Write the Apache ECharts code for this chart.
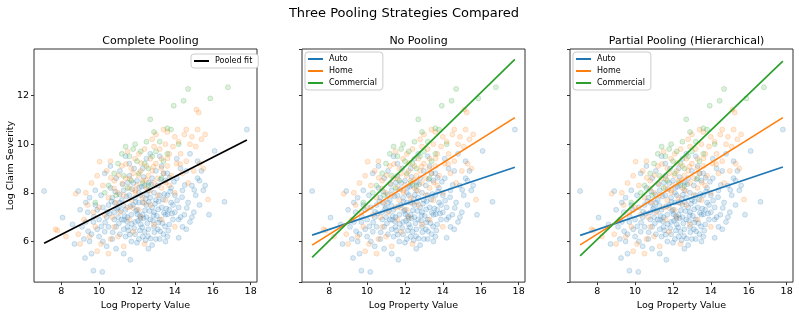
<!DOCTYPE html>
<html>
<head>
<meta charset="utf-8">
<title>Three Pooling Strategies Compared</title>
<script src="https://cdn.jsdelivr.net/npm/echarts@6/dist/echarts.min.js"></script>
<style>
  html, body { margin: 0; padding: 0; background: #fff; }
  #chart { width: 799px; height: 316px; }
</style>
</head>
<body>
<div id="chart"></div>
<script>
// data (log property value, log claim severity)
var autoPoints = [
  [7.1,8.07],[8.07,6.98],[8.9,8.07],[9.26,5.32],[9.7,4.8],[10.17,4.75],[11.65,5.25],[17.8,10.6],[16.1,9.72],[16.62,7.63],
  [15.3,8.5],[15.0,7.2],[14.6,6.5],[14.9,7.0],[15.5,8.1],[15.2,9.3],[14.8,9.6],[15.4,8.9],[14.3,9.0],[14.2,6.9],
  [13.2,6.1],[13.0,6.1],[12.6,5.7],[12.3,6.2],[11.9,6.3],[11.3,5.5],[10.9,5.7],[10.4,5.8],[10.0,6.2],[9.6,6.3],
  [9.2,6.1],[8.7,5.9],[9.0,7.3],[9.3,6.8],[8.6,6.7],[9.8,7.5],[9.5,7.8],
  [10.2,7.4],[10.4,7.0],[10.5,6.6],[10.7,7.8],[10.8,7.2],[10.3,6.4],[10.9,6.6],[10.6,8.2],[10.1,7.9],[10.9,8.6],
  [10.5,7.5],[10.8,6.9],[11.0,7.4],[10.0,6.9],[10.3,8.8],[10.7,6.1],
  [11.1,7.6],[11.2,6.9],[11.3,8.1],[11.4,7.3],[11.5,6.6],[11.6,7.9],[11.7,7.1],[11.8,8.4],[11.9,6.8],[11.2,7.7],
  [11.4,6.2],[11.6,8.7],[11.8,7.5],[11.1,8.9],[11.5,7.0],[11.9,7.8],[11.3,6.5],[11.7,6.0],[11.0,7.0],[11.6,9.2],
  [12.0,7.3],[12.1,8.0],[12.2,6.7],[12.3,7.6],[12.4,8.3],[12.5,7.0],[12.6,6.5],[12.7,7.8],[12.8,8.6],[12.9,7.2],
  [12.1,6.1],[12.3,9.0],[12.5,7.5],[12.7,6.9],[12.9,8.0],[12.2,7.9],[12.4,6.4],[12.6,8.1],[12.8,7.4],[12.0,8.5],
  [12.5,9.4],[12.3,7.1],[12.9,6.6],[12.1,7.6],
  [13.0,7.7],[13.1,8.3],[13.2,6.9],[13.3,7.4],[13.4,8.8],[13.5,7.1],[13.6,7.9],[13.7,6.7],[13.8,8.2],[13.9,7.5],
  [13.1,6.5],[13.3,9.1],[13.5,8.5],[13.7,7.3],[13.9,6.9],[13.2,7.9],[13.4,6.3],[13.6,8.8],[13.8,7.6],[13.0,8.9],
  [13.5,6.0],
  [14.0,7.9],[14.1,8.6],[14.2,7.4],[14.4,8.1],[14.5,7.1],[14.6,8.9],[14.7,7.6],[14.9,8.3],[14.3,7.0],[14.8,6.8],
  [14.1,9.4],[14.4,6.6],[14.0,7.2],
  [15.1,7.9],[15.3,7.5],[15.6,8.3],[15.8,7.1],[15.2,8.6],
  [9.1,6.6],[9.4,7.2],[9.7,6.8],[9.9,7.3],[9.5,6.0],[9.8,8.1],[9.3,7.6],[9.6,5.5],[9.9,6.5],
  [10.55,7.15],[10.65,7.65],[10.85,8.05],[10.95,7.35],[11.05,6.75],[11.15,7.25],[11.25,8.35],[11.35,7.05],[11.45,7.85],[11.55,6.45],
  [11.65,7.45],[11.75,8.15],[11.85,6.55],[11.95,7.25],[12.05,6.85],[12.15,7.05],[12.25,8.25],[12.35,6.95],[12.45,7.75],[12.55,6.75],
  [12.65,7.25],[12.75,8.35],[12.85,6.85],[12.95,7.55],[13.05,7.05],[13.15,7.65],[13.25,8.55],[13.35,6.75],[13.45,7.95],[13.55,7.35],
  [13.65,6.45],[13.75,8.05],[13.85,7.15],[13.95,8.45],[12.15,6.45],[12.35,8.65],[11.85,9.0],[12.7,9.6],[11.4,9.5],[10.6,9.1],
  [13.2,9.5],[12.0,5.95],[12.8,5.85],[11.1,6.3],[10.2,6.0],[13.6,6.2],[14.2,6.15],[12.45,6.05],
  [10.72,6.38],[11.08,7.93],[11.47,6.83],[11.93,7.62],[12.18,6.93],[12.42,7.28],[12.63,7.62],[12.88,7.08],[13.12,7.32],[13.38,7.72],
  [13.62,7.12],[13.12,6.78],[12.58,6.22],[11.72,6.72],[11.28,7.48],[10.83,7.58],[12.02,7.12],[12.27,6.58],[12.92,6.38],[13.48,6.62],
  [14.12,7.68],[14.63,7.38],[14.38,7.82],[11.52,8.42],[12.12,8.22],[12.62,8.42],[13.72,8.62],[10.42,7.22],[10.12,6.62],[9.42,6.42],
  [13.22,6.42],[12.72,6.12],[11.62,6.28],[14.52,8.32],[15.02,8.12],[9.72,7.02],[10.32,6.78],[11.32,6.88],[12.52,7.92],[13.42,7.18]
];
var homePoints = [
  [7.7,6.5],[7.8,6.45],[8.25,6.2],[8.77,7.96],[9.0,5.9],[10.03,9.28],[15.14,11.42],[15.26,11.3],[15.75,7.72],[15.6,10.4],
  [15.2,10.6],[15.4,10.2],[14.9,10.3],[15.1,9.9],[14.5,10.4],[14.6,10.6],[14.0,10.3],[13.6,10.5],[13.4,10.6],[13.0,10.4],
  [12.8,10.2],[14.3,9.6],[15.3,9.2],[15.0,8.9],[15.5,9.0],[14.8,10.0],
  [9.9,5.6],[10.1,5.9],[10.5,5.5],[9.5,6.2],[8.9,6.3],[9.2,6.9],[9.8,6.6],[11.3,5.8],[12.9,6.7],[13.3,6.9],
  [14.0,6.6],[10.6,6.1],[11.0,6.2],[11.8,6.4],[12.4,5.9],
  [9.3,8.0],[9.6,8.4],[9.9,8.7],[10.2,8.3],[10.4,8.9],[10.6,9.3],[10.8,8.5],[11.0,8.0],[11.2,9.1],[11.4,8.6],
  [11.5,9.7],[11.6,8.2],[11.7,9.0],[11.8,8.8],[11.9,9.4],[12.0,8.3],[12.1,9.6],[12.2,8.9],[12.3,8.5],[12.4,9.8],
  [12.5,9.1],[12.6,8.7],[12.7,9.4],[12.8,8.9],[12.9,9.9],[13.0,9.2],[13.1,8.6],[13.2,9.8],[13.3,9.4],[13.4,8.8],
  [13.5,10.0],[13.6,9.1],[13.7,9.6],[13.8,8.7],[13.9,9.9],[14.1,9.2],[14.2,10.1],[14.4,8.8],[14.6,9.3],[14.7,8.4],
  [10.0,7.4],[10.3,7.1],[10.5,7.8],[10.7,7.0],[10.9,7.6],[11.1,7.2],[11.3,7.9],[11.5,7.4],[11.7,7.7],[11.9,8.1],
  [12.1,7.3],[12.3,7.8],[12.5,8.2],[12.7,7.5],[12.9,8.4],[13.1,7.9],[13.3,8.2],[13.5,7.7],[13.7,8.3],[14.0,8.0],
  [9.7,7.2],[9.4,7.5],[10.8,6.6],[11.6,6.9],[12.2,7.0],
  [11.22,8.38],[11.62,8.58],[12.08,8.72],[12.48,8.52],[12.22,9.22],[11.42,9.18],[10.78,8.18],[12.88,9.08],[13.28,9.02],[13.62,9.42],
  [11.92,8.02],[12.68,8.08],[10.62,8.62],[11.02,8.72],[13.52,8.42],[14.28,9.18],[11.78,7.38],[12.38,7.58]
];
var commercialPoints = [
  [14.7,12.27],[16.8,12.34],[15.87,11.88],[14.46,11.78],[13.94,11.58],[12.7,11.02],[13.6,10.65],[13.8,10.6],[12.5,10.1],[11.2,9.6],
  [11.4,9.9],[11.6,9.5],[11.8,9.8],[12.0,9.3],[12.2,9.7],[12.4,9.2],[12.6,9.0],[12.8,9.5],[13.0,9.7],[13.2,10.1],
  [13.4,9.3],[11.0,9.2],[10.8,8.8],[11.3,8.7],[11.7,8.5],[12.1,8.8],[12.3,8.4],[10.5,8.3],[10.3,8.0],[9.8,7.6],
  [11.9,10.0],[13.6,9.6],[14.2,10.0],[12.9,10.5],[11.5,8.2],[12.6,8.3],[10.9,7.9],[13.3,8.6]
];

// fitted lines, value at x = 7.1 and x = 17.8
var fitX = [7.1, 17.8];
var pooledFit = [5.93, 10.17];
var noPoolAuto = [6.26, 9.05];
var noPoolHome = [5.85, 11.09];
var noPoolCommercial = [5.35, 13.48];
var partialAuto = [6.25, 9.06];
var partialHome = [5.86, 11.09];
var partialCommercial = [5.41, 13.41];

var groups = ['Auto', 'Home', 'Commercial'];
var colors = ['#1f77b4', '#ff7f0e', '#2ca02c'];
var fills = ['rgba(31,119,180,0.2)', 'rgba(255,127,14,0.2)', 'rgba(44,160,44,0.2)'];
var edges = ['rgba(31,119,180,0.3)', 'rgba(255,127,14,0.3)', 'rgba(44,160,44,0.3)'];
var pointSets = [autoPoints, homePoints, commercialPoints];
var panelTitles = ['Complete Pooling', 'No Pooling', 'Partial Pooling (Hierarchical)'];
var panelLeft = [34, 302, 570];
var panelWidth = 223;

var font = 'DejaVu Sans';
var myChart = echarts.init(document.getElementById('chart'), null, { renderer: 'canvas' });

function lineData(ys) {
  return [[fitX[0], ys[0]], [fitX[1], ys[1]]];
}

var grids = [], xAxes = [], yAxes = [], series = [];
var titles = [{
  text: 'Three Pooling Strategies Compared',
  left: 399, top: 2, textAlign: 'center',
  textStyle: { fontFamily: font, fontSize: 13, fontWeight: 'normal', color: '#000' }
}];

for (var p = 0; p < 3; p++) {
  grids.push({
    left: panelLeft[p], top: 49, width: panelWidth, height: 235,
    show: true, borderColor: '#333', borderWidth: 1, backgroundColor: 'transparent'
  });
  titles.push({
    text: panelTitles[p],
    left: panelLeft[p] + panelWidth / 2, top: 31, textAlign: 'center',
    textStyle: { fontFamily: font, fontSize: 11, fontWeight: 'normal', color: '#000' }
  });
  xAxes.push({
    gridIndex: p, type: 'value', min: 6.565, max: 18.335, splitNumber: 5,
    name: 'Log Property Value', nameLocation: 'middle', nameGap: 16,
    nameTextStyle: { fontFamily: font, fontSize: 9.5, color: '#000' },
    axisLine: { show: false },
    axisTick: { show: true, length: 3, lineStyle: { color: '#333' } },
    axisLabel: { fontFamily: font, fontSize: 9.5, color: '#000', margin: 4, showMinLabel: false, showMaxLabel: false },
    splitLine: { show: false }
  });
  yAxes.push({
    gridIndex: p, type: 'value', min: 4.33, max: 13.91, splitNumber: 5,
    name: p === 0 ? 'Log Claim Severity' : '', nameLocation: 'middle', nameGap: 18,
    nameMoveOverlap: false,
    nameTextStyle: { fontFamily: font, fontSize: 9.5, color: '#000' },
    axisLine: { show: false },
    axisTick: { show: true, length: 3, lineStyle: { color: '#333' } },
    axisLabel: { show: p === 0, fontFamily: font, fontSize: 9.5, color: '#000', margin: 5, showMinLabel: false, showMaxLabel: false },
    splitLine: { show: false }
  });
  for (var g = 0; g < 3; g++) {
    series.push({
      name: groups[g] + ' data', type: 'scatter', xAxisIndex: p, yAxisIndex: p,
      data: pointSets[g], symbolSize: 5, silent: true,
      itemStyle: { color: fills[g], borderColor: edges[g], borderWidth: 0.8 }
    });
  }
}

series.push({
  name: 'Pooled fit', type: 'line', xAxisIndex: 0, yAxisIndex: 0,
  data: lineData(pooledFit), showSymbol: false, silent: true, z: 5,
  color: '#000', lineStyle: { color: '#000', width: 1.7 }
});
var noPool = [noPoolAuto, noPoolHome, noPoolCommercial];
var partial = [partialAuto, partialHome, partialCommercial];
for (var g2 = 0; g2 < 3; g2++) {
  series.push({
    name: groups[g2], type: 'line', xAxisIndex: 1, yAxisIndex: 1,
    data: lineData(noPool[g2]), showSymbol: false, silent: true, z: 5,
    color: colors[g2], lineStyle: { color: colors[g2], width: 1.7 }
  });
  series.push({
    name: groups[g2], type: 'line', xAxisIndex: 2, yAxisIndex: 2,
    data: lineData(partial[g2]), showSymbol: false, silent: true, z: 5,
    color: colors[g2], lineStyle: { color: colors[g2], width: 1.7 }
  });
}

var legendBase = {
  orient: 'vertical', icon: 'rect', itemWidth: 15, itemHeight: 2, itemGap: 4,
  backgroundColor: '#fff', borderColor: '#ccc', borderWidth: 1, borderRadius: 3,
  padding: [3, 6, 3, 3], selectedMode: false,
  textStyle: { fontFamily: font, fontSize: 8, color: '#000', padding: [0, 0, 0, 1] }
};
var legends = [
  Object.assign({}, legendBase, { data: ['Pooled fit'], left: 191, top: 54 }),
  Object.assign({}, legendBase, { data: groups, left: 305, top: 52 }),
  Object.assign({}, legendBase, { data: groups, left: 573, top: 52 })
];

myChart.setOption({
  animation: false,
  backgroundColor: '#fff',
  title: titles,
  legend: legends,
  grid: grids,
  xAxis: xAxes,
  yAxis: yAxes,
  series: series
});
</script>
</body>
</html>
